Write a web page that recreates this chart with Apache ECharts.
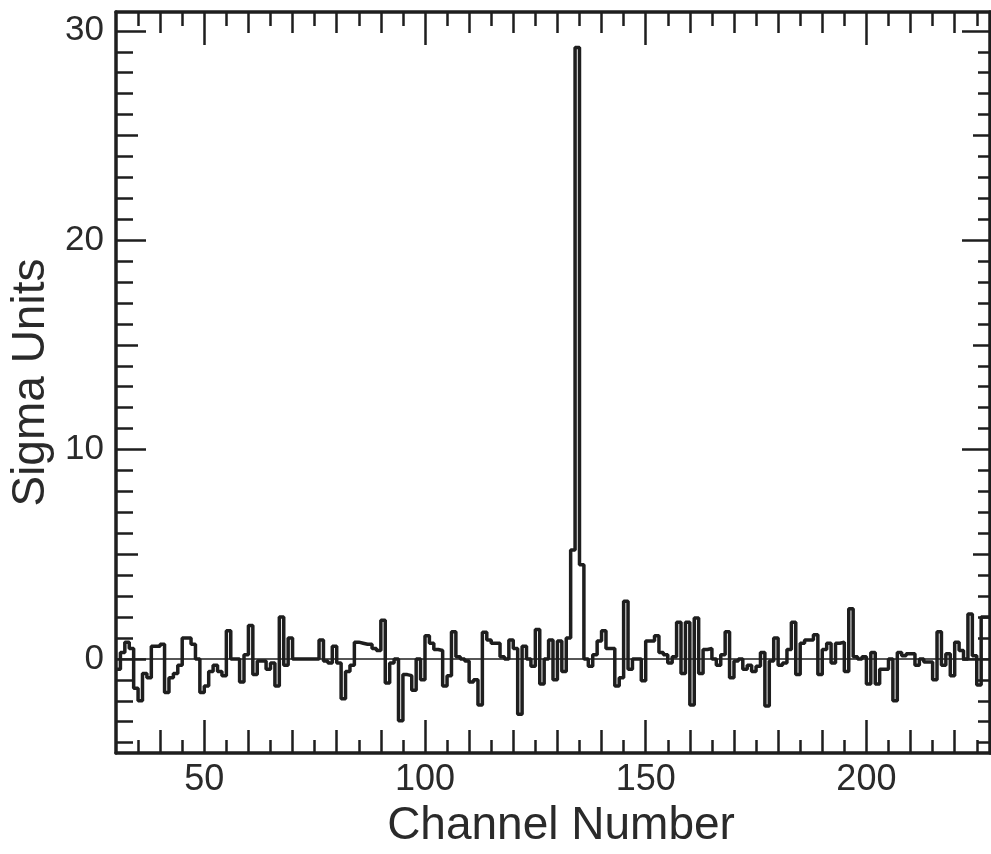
<!DOCTYPE html>
<html><head><meta charset="utf-8">
<script src="https://cdn.jsdelivr.net/npm/echarts/dist/echarts.min.js"></script>
<style>html,body{margin:0;padding:0;background:#fff}#c{width:991px;height:854px}</style>
</head><body><div id="c"></div>
<script>
// ---- data ----
const firstChannel = 30;
const sigmaValues = [
  -0.5, 0.3, 0.8, 0.5, -1.4, -2.0, -0.7, -0.9, 0.6, 0.6,
  0.7, -1.6, -0.9, -0.7, -0.3, 1.0, 1.0, 0.7, 0.0, -1.6,
  -1.3, -0.6, -0.3, -0.6, -0.8, 1.35, 0.0, 0.0, -1.1, 0.2,
  1.6, -0.75, -0.1, -0.1, -0.5, -0.2, -1.3, 2.0, -0.3, 1.0,
  0.0, 0.0, 0.0, 0.0, 0.0, 0.0, 0.9, -0.1, -0.2, 0.6,
  -0.2, -1.9, -0.6, -0.3, 0.8, 0.75, 0.7, 0.7, 0.5, 0.4,
  1.85, -1.15, -0.2, 0.0, -2.95, -0.75, -0.8, -1.5, 0.0, -1.0,
  1.1, 0.75, 0.45, 0.4, -1.3, -0.8, 1.3, 0.1, 0.0, -0.1,
  -1.1, -1.0, -2.2, 1.27, 0.9, 0.75, 0.75, 0.1, 0.0, 0.9,
  0.5, -2.65, 0.6, 0.0, -0.35, 1.4, -1.2, 0.0, 0.9, -1.0,
  0.85, -0.6, 1.0, 5.2, 29.2, 4.5, 0.0, -0.35, 0.2, 0.85,
  1.35, 0.5, 0.5, -1.3, -0.9, 2.75, -0.5, 0.0, 0.0, -1.05,
  0.85, 0.85, 1.1, 0.3, 0.2, -0.2, 0.1, 1.75, -0.7, 1.75,
  -2.2, 1.95, -0.7, 0.45, 0.5, 0.0, -0.3, 0.2, 1.3, -0.9,
  -0.1, 0.0, -0.5, -0.3, -0.6, -0.35, 0.3, -2.25, -0.1, 1.0,
  -0.3, -0.2, 0.45, 1.75, -0.75, 0.75, 0.9, 0.9, 1.15, -0.75,
  0.45, 0.75, -0.2, 0.75, 0.8, -0.6, 2.4, 0.1, 0.0, 0.1,
  -1.2, 0.3, -1.2, -0.5, -0.5, 0.0, -2.0, 0.3, 0.15, 0.25,
  0.25, -0.3, 0.0, -0.15, -0.15, -1.0, 1.3, -0.3, 0.25, -0.8,
  0.8, 0.4, 0.0, 2.15, 0.15, -1.25, 2.0, 2.0
];
const xLabelValues = [50, 100, 150, 200];
const yLabelValues = [0, 10, 20, 30];
const xTicks5  = [35,40,45,50,55,60,65,70,75,80,85,90,95,100,105,110,115,120,125,130,135,140,145,150,155,160,165,170,175,180,185,190,195,200,205,210,215,220,225];
const xTicks10 = [40,50,60,70,80,90,100,110,120,130,140,150,160,170,180,190,200,210,220];
const xTicks50 = [50, 100, 150, 200];
const yTicks1  = [-4,-3,-2,-1,0,1,2,3,4,5,6,7,8,9,10,11,12,13,14,15,16,17,18,19,20,21,22,23,24,25,26,27,28,29,30];
const yTicks5  = [0, 5, 10, 15, 20, 25, 30];
const yTicks10 = [0, 10, 20, 30];

const X_MIN = 30, X_MAX = 228, Y_MIN = -4.5, Y_MAX = 30.9;
const ink = '#1e1e1e';
const font = '"Liberation Sans", Arial, Helvetica, sans-serif';

// step histogram points: each channel value holds from c to c+1
const stepData = sigmaValues.map((v, i) => [firstChannel + i, v]);
stepData.push([firstChannel + sigmaValues.length, sigmaValues[sigmaValues.length - 1]]);

function mkX(position, ticks, len, showLine, labels) {
  return {
    type: 'value', position, min: X_MIN, max: X_MAX,
    axisLine: { show: showLine, onZero: false, lineStyle: { color: ink, width: 3.5 } },
    axisTick: { show: true, inside: true, length: len, customValues: ticks, lineStyle: { color: ink, width: 2.5 } },
    axisLabel: labels ? { show: true, customValues: labels, margin: 9, fontSize: 36, color: '#2a2a2a', fontFamily: font } : { show: false },
    splitLine: { show: false }
  };
}
function mkY(position, ticks, len, showLine, labels) {
  return {
    type: 'value', position, min: Y_MIN, max: Y_MAX,
    axisLine: { show: showLine, onZero: false, lineStyle: { color: ink, width: 3.5 } },
    axisTick: { show: true, inside: true, length: len, customValues: ticks, lineStyle: { color: ink, width: 2.5 } },
    axisLabel: labels ? { show: true, customValues: labels, margin: 12, fontSize: 35, color: '#2a2a2a', fontFamily: font } : { show: false },
    splitLine: { show: false }
  };
}

const xAxes = [
  Object.assign(mkX('bottom', xTicks5, 13, true, xLabelValues), {
    name: 'Channel Number', nameLocation: 'middle', nameGap: 48,
    nameTextStyle: { fontSize: 46, color: '#2a2a2a', fontFamily: font, padding: [0, 0, 0, 16] }
  }),
  mkX('bottom', xTicks10, 23, false, null),
  mkX('bottom', xTicks50, 33, false, null),
  mkX('top', xTicks5, 14, true, null),
  mkX('top', xTicks10, 21, false, null),
  mkX('top', xTicks50, 33, false, null)
];
const yAxes = [
  Object.assign(mkY('left', yTicks1, 17, true, yLabelValues), {
    name: 'Sigma Units', nameLocation: 'middle', nameGap: 62,
    nameTextStyle: { fontSize: 46, color: '#2a2a2a', fontFamily: font }
  }),
  mkY('left', yTicks5, 22, false, null),
  mkY('left', yTicks10, 30, false, null),
  mkY('right', yTicks1, 12, true, null),
  mkY('right', yTicks5, 17, false, null),
  mkY('right', yTicks10, 28, false, null)
];

const chart = echarts.init(document.getElementById('c'), null, { renderer: 'canvas' });
chart.setOption({
  animation: false,
  backgroundColor: '#fff',
  grid: { left: 116, right: 1, top: 12, bottom: 97.5, containLabel: false },
  xAxis: xAxes,
  yAxis: yAxes,
  series: [{
    type: 'line', step: 'end', xAxisIndex: 0, yAxisIndex: 0,
    data: stepData, symbol: 'none', showSymbol: false,
    lineStyle: { color: ink, width: 3.5 },
    markLine: {
      silent: true, symbol: ['none', 'none'], label: { show: false },
      lineStyle: { color: ink, width: 1.5, type: 'solid' },
      data: [{ yAxis: 0 }]
    }
  }]
});
</script></body></html>
